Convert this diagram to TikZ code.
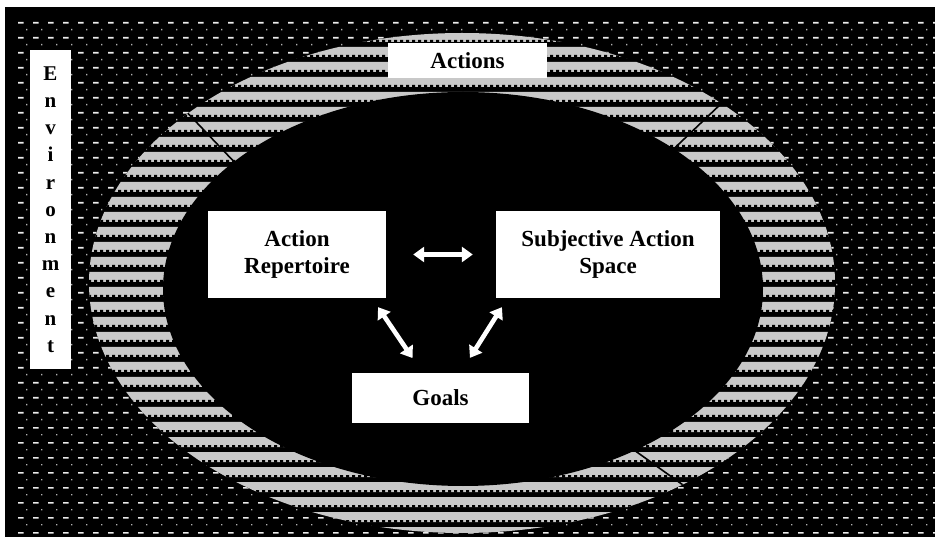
\documentclass[tikz,border=0pt]{standalone}
\usepackage{fontspec}
\setmainfont{Liberation Serif}
\usetikzlibrary{arrows.meta}
\definecolor{ringgray}{RGB}{200,200,200}
\begin{document}
\begin{tikzpicture}[x=1pt,y=-1pt,
  box/.style={fill=white,inner sep=0pt,align=center,font=\fontsize{23}{27}\selectfont\bfseries},
  dbl/.style={draw=white,line width=4.6pt,{Triangle[width=15pt,length=11pt]}-{Triangle[width=15pt,length=11pt]}},
  divline/.style={draw=black,line width=1.6pt}]
\useasboundingbox (0,0) rectangle (935,537);
\fill[white] (0,0) rectangle (935,537);
\fill[black] (5,7) rectangle (935,537);
% background dash pattern
\fill[white!92!black] \foreach \r in {0,...,34} { \foreach \c in {0,...,61} { (18+15*\c,22+15*\r) rectangle ++(5.5,1.6) } };
\fill[white!70!black] \foreach \r in {0,...,34} { \foreach \c in {0,...,61} { (26+15*\c,29+15*\r) rectangle ++(1.3,1.3) } };
% striped ring
\begin{scope}
\clip (462,283) ellipse [x radius=373, y radius=250];
\fill[black] (80,25) rectangle (850,537);
\fill[ringgray] \foreach \k in {2,...,35} { (80,2+15*\k) rectangle (850,12+15*\k) };
\fill[black] \foreach \k in {2,...,35} { \foreach \c in {0,...,128} { (82+6*\c,10+15*\k) rectangle ++(3,2.5) } };
\draw[divline] (180,105) -- (240,168);
\draw[divline] (725,100) -- (660,162);
\draw[divline] (620,440) -- (690,490);
\end{scope}
% inner black ellipse
\fill[black] (463,289) ellipse [x radius=300, y radius=197];
% boxes
\node[box, minimum width=159, minimum height=35] (actions) at (467.5,60.5) {Actions};
\node[box, minimum width=41, minimum height=319, font=\fontsize{21}{27.2}\selectfont\bfseries] (env) at (50.5,209.5) {E\\n\\v\\i\\r\\o\\n\\m\\e\\n\\t};
\node[box, minimum width=178, minimum height=87] (rep) at (297,254.5) {Action\\Repertoire};
\node[box, minimum width=224, minimum height=87] (sas) at (608,254.5) {Subjective Action\\Space};
\node[box, minimum width=177, minimum height=50] (goals) at (440.5,398) {Goals};
% arrows
\draw[dbl, shorten <=27pt, shorten >=23pt] (rep.east) -- (sas.west);
\draw[dbl, shorten <=10.8pt, shorten >=17.8pt] ([xshift=75pt]rep.south) -- ([xshift=-18pt]goals.north);
\draw[dbl, shorten <=10.6pt, shorten >=17.7pt] ([xshift=-100.4pt]sas.south) -- ([xshift=20pt]goals.north);
\end{tikzpicture}
\end{document}
